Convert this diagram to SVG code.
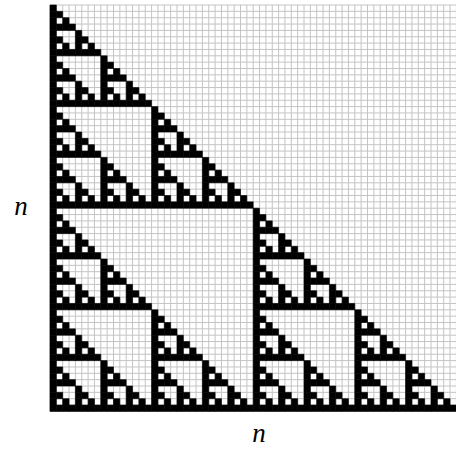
<svg xmlns="http://www.w3.org/2000/svg" xmlns:xlink="http://www.w3.org/1999/xlink" width="456" height="449" viewBox="0 0 456 449">
<style>
.grid{fill:none;stroke:#c4c4c4;stroke-width:1;vector-effect:non-scaling-stroke}
.cell{fill:#000;stroke:#000;stroke-width:0.6;vector-effect:non-scaling-stroke}
.lbl{font-family:"Liberation Serif","Times New Roman",serif;font-style:italic;font-size:27px;fill:#000;text-anchor:middle}
</style>
<defs>
<rect id="s0" class="cell" width="1" height="1"/>
<g id="s1"><use xlink:href="#s0"/><use xlink:href="#s0" y="1"/><use xlink:href="#s0" x="1" y="1"/></g>
<g id="s2"><use xlink:href="#s1"/><use xlink:href="#s1" y="2"/><use xlink:href="#s1" x="2" y="2"/></g>
<g id="s3"><use xlink:href="#s2"/><use xlink:href="#s2" y="4"/><use xlink:href="#s2" x="4" y="4"/></g>
<g id="s4"><use xlink:href="#s3"/><use xlink:href="#s3" y="8"/><use xlink:href="#s3" x="8" y="8"/></g>
<g id="s5"><use xlink:href="#s4"/><use xlink:href="#s4" y="16"/><use xlink:href="#s4" x="16" y="16"/></g>
<g id="s6"><use xlink:href="#s5"/><use xlink:href="#s5" y="32"/><use xlink:href="#s5" x="32" y="32"/></g>
</defs>
<rect width="456" height="449" fill="#fff"/>
<g id="board" transform="translate(50,5) scale(6.35)">
<path class="grid" d="M0 0V64M1 0V64M2 0V64M3 0V64M4 0V64M5 0V64M6 0V64M7 0V64M8 0V64M9 0V64M10 0V64M11 0V64M12 0V64M13 0V64M14 0V64M15 0V64M16 0V64M17 0V64M18 0V64M19 0V64M20 0V64M21 0V64M22 0V64M23 0V64M24 0V64M25 0V64M26 0V64M27 0V64M28 0V64M29 0V64M30 0V64M31 0V64M32 0V64M33 0V64M34 0V64M35 0V64M36 0V64M37 0V64M38 0V64M39 0V64M40 0V64M41 0V64M42 0V64M43 0V64M44 0V64M45 0V64M46 0V64M47 0V64M48 0V64M49 0V64M50 0V64M51 0V64M52 0V64M53 0V64M54 0V64M55 0V64M56 0V64M57 0V64M58 0V64M59 0V64M60 0V64M61 0V64M62 0V64M63 0V64M64 0V64M0 0H64M0 1H64M0 2H64M0 3H64M0 4H64M0 5H64M0 6H64M0 7H64M0 8H64M0 9H64M0 10H64M0 11H64M0 12H64M0 13H64M0 14H64M0 15H64M0 16H64M0 17H64M0 18H64M0 19H64M0 20H64M0 21H64M0 22H64M0 23H64M0 24H64M0 25H64M0 26H64M0 27H64M0 28H64M0 29H64M0 30H64M0 31H64M0 32H64M0 33H64M0 34H64M0 35H64M0 36H64M0 37H64M0 38H64M0 39H64M0 40H64M0 41H64M0 42H64M0 43H64M0 44H64M0 45H64M0 46H64M0 47H64M0 48H64M0 49H64M0 50H64M0 51H64M0 52H64M0 53H64M0 54H64M0 55H64M0 56H64M0 57H64M0 58H64M0 59H64M0 60H64M0 61H64M0 62H64M0 63H64M0 64H64"/>
<use xlink:href="#s6"/>
</g>
<text class="lbl" x="21" y="215">n</text>
<text class="lbl" x="259" y="442">n</text>
</svg>
